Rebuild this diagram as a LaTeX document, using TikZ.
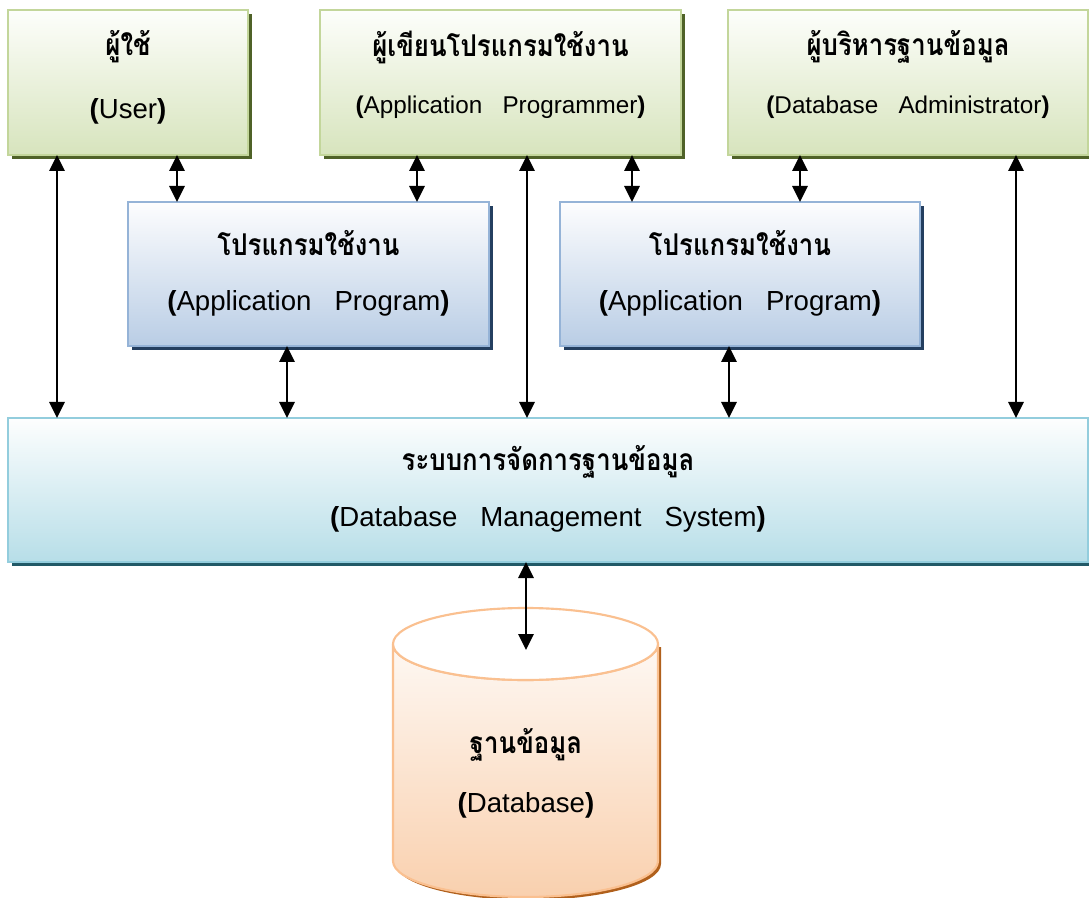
\documentclass[tikz,border=0pt]{standalone}
\usepackage{fontspec}
\setmainfont{Liberation Sans}
\newfontfamily\thaifont[Script=Thai,FakeStretch=0.86]{Loma}
\usetikzlibrary{shadows,arrows.meta}
\definecolor{gtop}{HTML}{FDFEFB}
\definecolor{gbot}{HTML}{D7E4BD}
\definecolor{gline}{HTML}{C3D69B}
\definecolor{gshadow}{HTML}{4F6228}
\definecolor{btop}{HTML}{FDFDFE}
\definecolor{bbot}{HTML}{B9CDE5}
\definecolor{bline}{HTML}{95B3D7}
\definecolor{bshadow}{HTML}{243F60}
\definecolor{ctop}{HTML}{FDFEFE}
\definecolor{cbot}{HTML}{B7DEE8}
\definecolor{cline}{HTML}{93CDDD}
\definecolor{cshadow}{HTML}{215967}
\definecolor{otop}{HTML}{FEF8F3}
\definecolor{obot}{HTML}{F9D0AE}
\definecolor{oline}{HTML}{FAC090}
\definecolor{oshadow}{HTML}{B0601C}
\tikzset{
  boxbase/.style={rectangle, inner sep=0pt, outer sep=0pt, line width=1.6pt},
  greenbox/.style={boxbase, draw=gline, top color=gtop, bottom color=gbot,
    general shadow={fill=gshadow, shadow xshift=3pt, shadow yshift=-3pt}},
  bluebox/.style={boxbase, draw=bline, top color=btop, bottom color=bbot,
    general shadow={fill=bshadow, shadow xshift=3pt, shadow yshift=-3pt}},
  cyanbox/.style={boxbase, draw=cline, top color=ctop, bottom color=cbot,
    general shadow={fill=cshadow, shadow xshift=3pt, shadow yshift=-3pt}},
  thaititle/.style={font=\thaifont\bfseries\fontsize{22.5}{26}\selectfont, inner sep=0pt},
  engsmall/.style={font=\fontsize{18.2}{21}\selectfont, inner sep=0pt},
  engbig/.style={font=\fontsize{20.7}{24}\selectfont, inner sep=0pt},
  arr/.style={{Triangle[width=11.5pt,length=12pt]}-{Triangle[width=11.5pt,length=12pt]}, line width=1.3pt, black}
}
\newcommand{\bp}[1]{{\bfseries(}#1{\bfseries)}}
\begin{document}
\begin{tikzpicture}[x=0.75pt,y=-0.75pt]
\useasboundingbox (0,0) rectangle (1089,898);
% top row
\node[greenbox, minimum width=180pt, minimum height=108.75pt] (user) at (128,82.5) {};
\node[greenbox, minimum width=270.75pt, minimum height=108.75pt] (prog) at (500.5,82.5) {};
\node[greenbox, minimum width=270pt, minimum height=108.75pt] (dba) at (908,82.5) {};
% application programs
\node[bluebox, minimum width=270.75pt, minimum height=108pt] (app1) at (308.5,274) {};
\node[bluebox, minimum width=270pt, minimum height=108pt] (app2) at (740,274) {};
% dbms
\node[cyanbox, minimum width=810pt, minimum height=108pt] (dbms) at (548,490) {};
% database cylinder
\fill[oshadow] (396,647) -- (396,864) .. controls (396,884) and (456,900) .. (528.5,900)
  .. controls (601,900) and (661,884) .. (661,864) -- (661,647) -- cycle;
\path[draw=oline, line width=1.6pt, top color=otop, bottom color=obot]
  (393,644) -- (393,861) .. controls (393,880.9) and (452.3,897) .. (525.5,897)
  .. controls (598.7,897) and (658,880.9) .. (658,861) -- (658,644)
  .. controls (658,663.9) and (598.7,680) .. (525.5,680)
  .. controls (452.3,680) and (393,663.9) .. (393,644) -- cycle;
\filldraw[fill=white, draw=oline, line width=1.6pt] (525.5,644) ellipse [x radius=132.5, y radius=36];
\coordinate (dbtop) at (526,650);
% texts
\node[thaititle] (t1) at (128,47) {ผู้ใช้};
\node[engbig] (e1) at (128,111) {\bp{User}};
\node[thaititle] (t2) at (500.5,47) {ผู้เขียนโปรแกรมใช้งาน};
\node[engsmall] (e2) at (500.5,107) {\bp{Application~~~Programmer}};
\node[thaititle] (t3) at (908,47) {ผู้บริหารฐานข้อมูล};
\node[engsmall] (e3) at (908,107) {\bp{Database~~~Administrator}};
\node[thaititle] (t4) at (308.5,243) {โปรแกรมใช้งาน};
\node[engbig] (e4) at (308.5,303) {\bp{Application~~~Program}};
\node[thaititle] (t5) at (740,243) {โปรแกรมใช้งาน};
\node[engbig] (e5) at (740,303) {\bp{Application~~~Program}};
\node[thaititle] (t6) at (548,462) {ระบบการจัดการฐานข้อมูล};
\node[engbig] (e6) at (548,519) {\bp{Database~~~Management~~~System}};
\node[thaititle] (t7) at (526,745) {ฐานข้อมูล};
\node[engbig] (e7) at (526,805) {\bp{Database}};
% connectors
\draw[arr] (dbms.north -| 57,0) -- (user.south -| 57,0);
\draw[arr] (user.south -| 177,0) -- (app1.north -| 177,0);
\draw[arr] (prog.south -| 417,0) -- (app1.north -| 417,0);
\draw[arr] (dbms.north -| 527,0) -- (prog.south -| 527,0);
\draw[arr] (prog.south -| 632,0) -- (app2.north -| 632,0);
\draw[arr] (dba.south -| 800,0) -- (app2.north -| 800,0);
\draw[arr] (dbms.north -| 1016,0) -- (dba.south -| 1016,0);
\draw[arr] (app1.south -| 287,0) -- (dbms.north -| 287,0);
\draw[arr] (app2.south -| 729,0) -- (dbms.north -| 729,0);
\draw[arr] (dbms.south -| 526,0) -- (dbtop);
\end{tikzpicture}
\end{document}
